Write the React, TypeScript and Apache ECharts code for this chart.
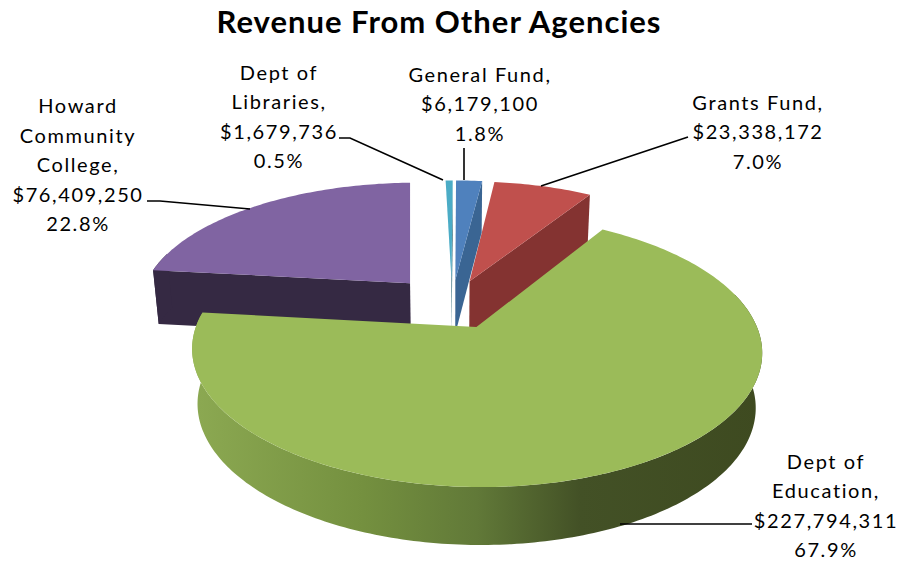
import React, { useEffect, useRef } from "react";
import * as echarts from "echarts";

const titleText = "Revenue From Other Agencies";
const categories = ["Dept of\nLibraries", "General Fund", "Grants Fund", "Dept of\nEducation", "Howard\nCommunity\nCollege"];
const amounts = [1679736, 6179100, 23338172, 227794311, 76409250];
const amountLabels = ["$1,679,736", "$6,179,100", "$23,338,172", "$227,794,311", "$76,409,250"];
const shareLabels = ["0.5%", "1.8%", "7.0%", "67.9%", "22.8%"];
const explosions = [0.2, 0.2, 0.2, 0.2, 0.235];

const topColors = ["#4BACC6", "#4F81BD", "#C0504D", "#9BBB59", "#8064A2"];
const sideColors = ["#1F5B6C", "#3A6593", "#843331", "#9BBB59", "#352943"];
const paintOrder = [3, 2, 1, 4, 0];

const labelBoxes = [
  { x: 279, y: 116 },
  { x: 480, y: 103 },
  { x: 758, y: 131 },
  { x: 826, y: 505 },
  { x: 78, y: 164 },
];
const leaders = [
  [[339, 138], [350, 138], [443, 180]],
  [[464, 148], [464, 180]],
  [[688, 137], [541, 186]],
  [[752, 524], [620, 524]],
  [[147, 201], [160, 201], [250, 209]],
];

const START_ANGLE = -1.5;
const CX = 452, CY = 304, RX = 272, RY = 124, DEPTH = 54.5, K = 0.17, M = 0.02;

function project(u: number, v: number, z: number): number[] {
  const w = 1 - K * v;
  return [CX + (RX * u) / (w + M * z), CY + (RY * v) / w + (DEPTH * z) / (1 - 0.05 * v)];
}

const total = amounts.reduce((a, b) => a + b, 0);

function sliceAngles(i: number): number[] {
  const before = amounts.slice(0, i).reduce((a, b) => a + b, 0);
  return [START_ANGLE + (before / total) * 360, START_ANGLE + ((before + amounts[i]) / total) * 360];
}

function renderSlice(params: any, api: any) {
  const i = params.dataIndex;
  const [a0, a1] = sliceAngles(i);
  const mid = (((a0 + a1) / 2) * Math.PI) / 180;
  const e = explosions[i];
  const ou = e * Math.sin(mid), ov = -e * Math.cos(mid);
  const pt = (deg: number, z: number, r = 1) => {
    const t = (deg * Math.PI) / 180;
    return project(ou + r * Math.sin(t), ov - r * Math.cos(t), z);
  };
  const arc = (from: number, to: number, z: number) => {
    const pts: number[][] = [];
    const n = Math.max(2, Math.ceil(to - from));
    for (let s = 0; s <= n; s++) pts.push(pt(from + ((to - from) * s) / n, z));
    return pts;
  };
  const base = paintOrder[i] * 10;
  const children: any[] = [];
  const side = sideColors[i];
  const addRadial = (deg: number, z2: number) =>
    children.push({
      type: "polygon",
      z2,
      shape: { points: [pt(deg, 0, 0), pt(deg, 0), pt(deg, 1), pt(deg, 1, 0)] },
      style: { fill: side },
    });
  if (Math.sin((a0 * Math.PI) / 180) < -0.01 && a0 > 0) addRadial(a0, base + 1);
  if (Math.sin((a1 * Math.PI) / 180) > -0.02) addRadial(a1, base + 1);
  const wa = Math.max(a0, 75), wb = Math.min(a1, 285);
  if (wb > wa) {
    const fill =
      i === 3
        ? new echarts.graphic.LinearGradient(0, 0, 1, 0, [
            { offset: 0, color: "#8CA952" },
            { offset: 0.3, color: "#74903F" },
            { offset: 0.5, color: "#617938" },
            { offset: 0.68, color: "#435126" },
            { offset: 1, color: "#3E4A20" },
          ])
        : side;
    children.push({
      type: "polygon",
      z2: base + 2,
      shape: { points: [...arc(wa, wb, 0), ...arc(wa, wb, 1).reverse()] },
      style: { fill },
    });
  }
  children.push({
    type: "polygon",
    z2: base + 3,
    shape: { points: [pt(a0, 0, 0), ...arc(a0, a1, 0)] },
    style: { fill: topColors[i] },
  });
  return { type: "group", children };
}

export default function App() {
  const ref = useRef<HTMLDivElement>(null);
  useEffect(() => {
    document.body.style.margin = "0";
    const chart = echarts.init(ref.current!, null, { renderer: "svg" });
    chart.setOption({
      animation: false,
      backgroundColor: "#ffffff",
      title: {
        text: titleText,
        left: 434,
        top: 0,
        textAlign: "center",
        textStyle: { fontFamily: "Lato", fontWeight: "bold", fontSize: 31, color: "#000000" },
      },
      series: [
        {
          type: "custom",
          coordinateSystem: "none",
          silent: true,
          data: amounts.map((v) => [v]),
          renderItem: renderSlice,
        },
      ],
      graphic: [
        ...leaders.map((points) => ({
          type: "polyline",
          z: 10,
          shape: { points },
          style: { stroke: "#000000", lineWidth: 1.6, fill: "none" },
        })),
        ...categories.map((c, i) => ({
          type: "text",
          z: 10,
          x: labelBoxes[i].x,
          y: labelBoxes[i].y,
          style: {
            text: `${c},\n${amountLabels[i]}\n${shareLabels[i]}`,
            font: "20px Lato",
            lineHeight: 29.5,
            fill: "#000000",
            align: "center",
            verticalAlign: "middle",
          },
        })),
      ],
    });
    return () => chart.dispose();
  }, []);
  return (
    <>
      <style>{`text[style*="bold"]{letter-spacing:1px}`}</style>
      <div ref={ref} style={{ width: 901, height: 563, letterSpacing: "1.6px" }} />
    </>
  );
}
